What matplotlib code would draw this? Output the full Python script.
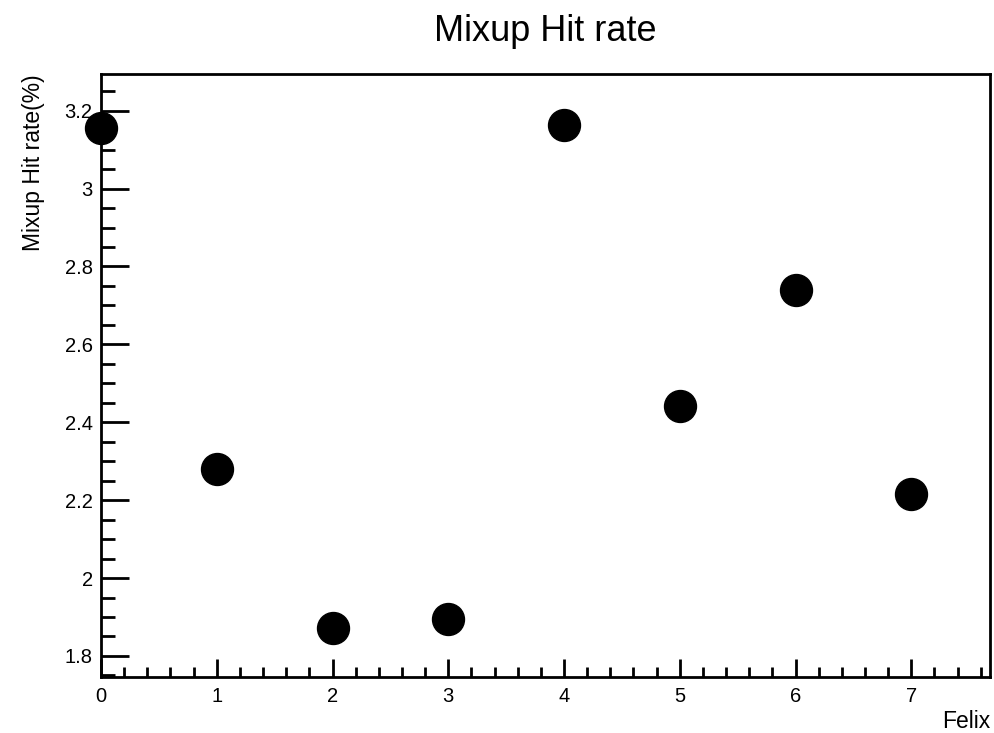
import matplotlib.pyplot as plt
from matplotlib.ticker import MultipleLocator

plt.rcParams['font.family'] = ['Liberation Sans', 'DejaVu Sans']

felix = [0, 1, 2, 3, 4, 5, 6, 7]
hit_rate = [3.156, 2.280, 1.872, 1.895, 3.163, 2.442, 2.740, 2.216]

fig = plt.figure(figsize=(9.94, 7.33), dpi=100)
ax = fig.add_axes([0.1016, 0.0764, 0.8944, 0.8226])

ax.plot(felix, hit_rate, 'o', color='black', markersize=23, clip_on=False, zorder=5)

ax.set_xlim(0, 7.68)
ax.set_ylim(1.746, 3.294)

ax.xaxis.set_major_locator(MultipleLocator(1))
ax.xaxis.set_minor_locator(MultipleLocator(0.2))
ax.yaxis.set_major_locator(MultipleLocator(0.2))
ax.yaxis.set_minor_locator(MultipleLocator(0.05))
ax.yaxis.set_major_formatter(plt.FuncFormatter(lambda v, p: f'{v:g}'))

ax.tick_params(axis='both', which='both', direction='in', top=False, right=False,
               width=2, labelsize=14.5, colors='black')
ax.tick_params(axis='y', which='major', length=20, pad=6)
ax.tick_params(axis='y', which='minor', length=10)
ax.tick_params(axis='x', which='major', length=13, pad=7)
ax.tick_params(axis='x', which='minor', length=7)

for s in ax.spines.values():
    s.set_linewidth(2)

ax.set_title('Mixup Hit rate', fontsize=26, pad=24)
ax.set_ylabel('Mixup Hit rate(%)', fontsize=16.5, loc='top', labelpad=14)
ax.set_xlabel('Felix', fontsize=16.5, loc='right', labelpad=3)

fig.savefig('out.png', dpi=100)
